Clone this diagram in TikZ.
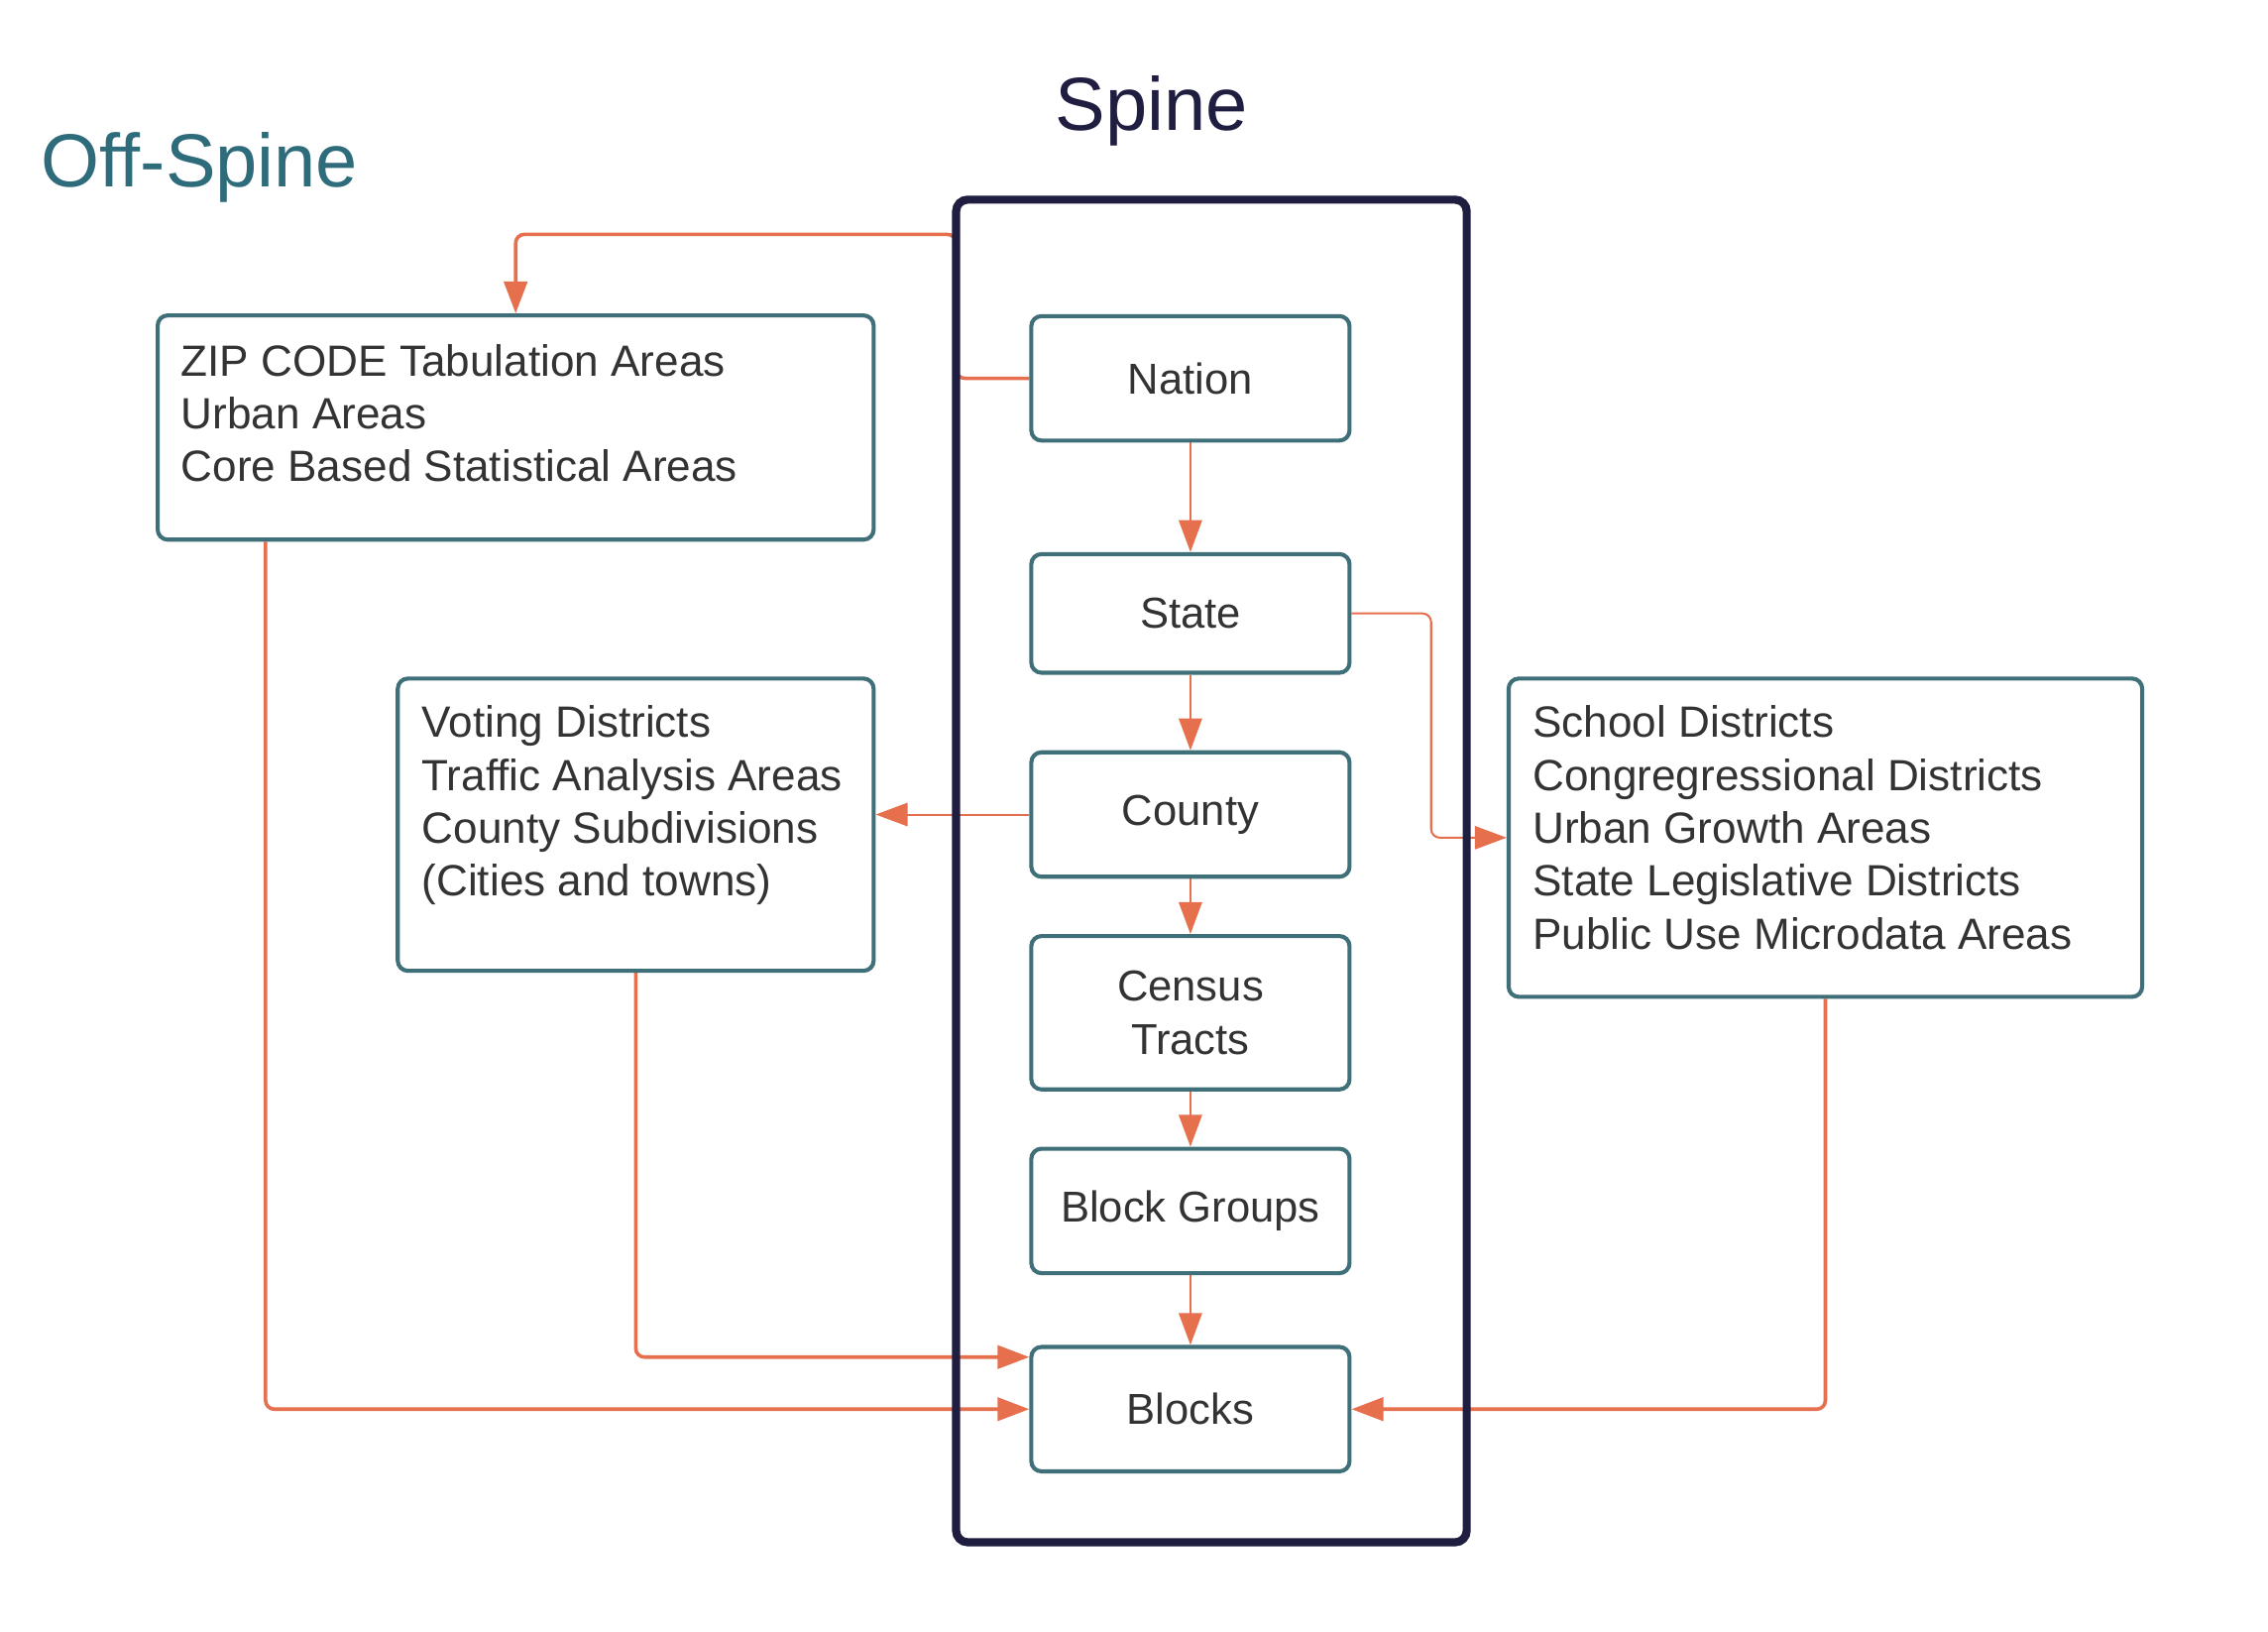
\documentclass[tikz,border=0pt]{standalone}
\usepackage{fontspec}
\setmainfont{Liberation Sans}
\usetikzlibrary{arrows.meta,backgrounds}
\definecolor{spinenavy}{HTML}{1F1D40}
\definecolor{boxteal}{HTML}{3F6F79}
\definecolor{offteal}{HTML}{2E6B7B}
\definecolor{linkred}{HTML}{E66F4E}
\definecolor{textgray}{HTML}{333333}
\begin{document}
\begin{tikzpicture}[
		spinebox/.style={draw=boxteal, line width=0.8pt, rounded corners=0.07cm, minimum width=2.2cm, align=center, text=textgray, font=\fontsize{8.5}{10.4}\selectfont, inner sep=0pt},
		offbox/.style={draw=boxteal, line width=0.8pt, rounded corners=0.07cm, inner sep=0pt},
		listtext/.style={anchor=base west, align=left, inner sep=0pt, text=textgray, font=\fontsize{8.6}{10.4}\selectfont},
		title/.style={anchor=base west, inner sep=0pt, font=\fontsize{14.8}{17}\selectfont},
		link/.style={draw=linkred, line width=0.7pt, rounded corners=0.06cm, -{Triangle[length=0.22cm, width=0.16cm]}},
		thinlink/.style={link, line width=0.4pt}]
		\useasboundingbox (0,0) rectangle (15.68,11.28);
		% titles
		\node [title, text=offteal] (offtitle) at (0.28,9.99) {Off-Spine};
		\node [title, text=spinenavy] (spinetitle) at (7.29,10.38) {Spine};
		% spine frame and its levels
		\node [draw=spinenavy, line width=1.6pt, outer sep=0pt, rounded corners=0.08cm, minimum width=3.53cm, minimum height=9.28cm] (spine) at (8.375,5.26) {};
		\foreach \name/\y/\h/\txt in {nation/8.665/0.86/Nation, state/7.04/0.82/State, county/5.65/0.86/County, tracts/4.28/1.06/{Census\\Tracts}, groups/2.91/0.86/Block Groups, blocks/1.54/0.86/Blocks} {
			\node [spinebox, minimum height=\h cm] (\name) at (8.23,\y) {\txt};
		};
		% off-spine boxes (text sits on the baseline of its last line)
		\node [offbox, minimum width=4.95cm, minimum height=1.55cm] (zip) at (3.565,8.325) {};
		\node [listtext] (ziptext) at (1.245,7.95) {ZIP CODE Tabulation Areas\\Urban Areas\\Core Based Statistical Areas};
		\node [offbox, minimum width=3.29cm, minimum height=2.02cm] (vbox) at (4.395,5.58) {};
		\node [listtext] (vtext) at (2.91,5.085) {Voting Districts\\Traffic Analysis Areas\\County Subdivisions\\(Cities and towns)};
		\node [offbox, minimum width=4.38cm, minimum height=2.20cm] (rbox) at (12.62,5.49) {};
		\node [listtext] (rtext) at (10.59,4.72) {School Districts\\Congregressional Districts\\Urban Growth Areas\\State Legislative Districts\\Public Use Microdata Areas};
		% connectors
		\begin{scope}[on background layer]
			\fill [white] (0,0) rectangle (15.68,11.28);
			\foreach \a/\b in {nation/state, state/county, county/tracts, tracts/groups, groups/blocks} {
				\draw [thinlink] (\a) -- (\b);
			};
			\coordinate (zipbend) at (spine.west |- 0,9.66);
			\draw [link] (nation.west) -| (zipbend) -| (zip.north);
			\draw [thinlink] (state.east) -- ++(0.55,0) |- (rbox.west);
			\draw [thinlink] (county.west) -- (county.west -| vbox.east);
			\draw [link] ([xshift=0.76cm]zip.south west) |- (blocks.west);
			\draw [link] (vbox.south) |- ([yshift=0.36cm]blocks.west);
			\draw [link] (rbox.south) |- (blocks.east);
		\end{scope}
	\end{tikzpicture}
\end{document}
